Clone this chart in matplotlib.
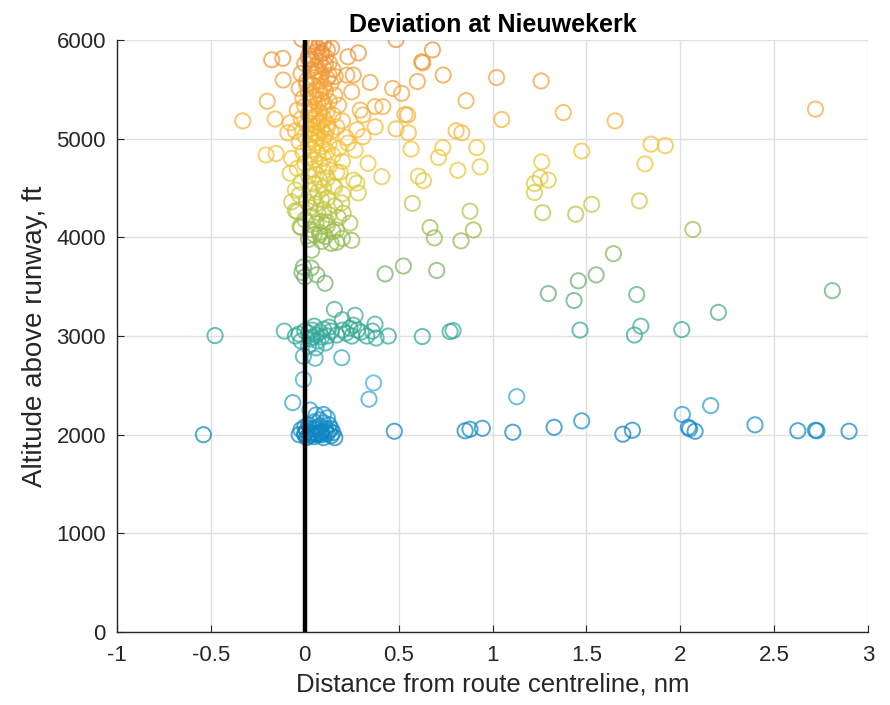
import numpy as np
import matplotlib
matplotlib.use('Agg')
import matplotlib.pyplot as plt
from matplotlib.colors import LinearSegmentedColormap, Normalize

OUTPUT_FILE = 'out.png'

# --- upper band (orange / yellow) ---
upper_x = [-0.016, 0.486, 0.68, 0.623, 0.628, 0.737, 0.60, 0.468, 0.516, 0.859,
           1.022, 1.259, 1.377, 1.049, 1.653, 2.72, 0.415, 0.534, 0.548, 0.486,
           0.552, 0.806, 0.836, 0.566, 0.735, 0.712, 0.916, 0.934, 0.815, 1.262,
           1.475, 1.844, 1.92, 1.812, 0.605, 0.632, 1.253, 1.297, 1.223, 1.223,
           0.41, 0.573, 1.782,
           -0.176, -0.117, -0.115, -0.2, -0.33, -0.158, -0.206, -0.153, -0.078, -0.09,
           -0.07, -0.078, -0.05,
           0.23, 0.285, 0.143, 0.224, 0.258, 0.348, 0.162, 0.25, 0.374, 0.295,
           0.31, 0.375, 0.277, 0.31, 0.23, 0.268, 0.337, 0.277, 0.285, 0.188, 0.26, 0.16]
upper_alt = [6010, 6005, 5900, 5780, 5770, 5645, 5580, 5510, 5460, 5385,
             5620, 5585, 5265, 5195, 5180, 5300, 5325, 5245, 5240, 5100,
             5060, 5080, 5060, 4895, 4910, 4810, 4910, 4715, 4680, 4765,
             4875, 4945, 4930, 4745, 4620, 4575, 4605, 4580, 4545, 4455,
             4615, 4345, 4370,
             5800, 5815, 5595, 5380, 5180, 5200, 4835, 4850, 5160, 5060,
             4800, 4650, 4480,
             5830, 5870, 5920, 5645, 5645, 5570, 5630, 5475, 5325, 5290,
             5240, 5120, 5090, 5020, 4955, 4885, 4750, 4550, 4450, 4660, 4580, 4510]

# --- dense cluster next to the centreline ---
core_x = [0.05, 0.08, 0.10, 0.03, 0.07, 0.12, 0.06, 0.09, 0.02, 0.11, 0.04, 0.08, 0.13, 0.00,
          0.06, 0.10, 0.03, 0.15, 0.07, -0.02, 0.09, 0.05, 0.12, 0.01, 0.08, 0.14, 0.04, 0.10,
          -0.03, 0.06, 0.11, 0.02, 0.08, 0.16, 0.05, -0.01, 0.09, 0.13, 0.03, 0.07, 0.18, 0.00,
          0.10, 0.05, -0.04, 0.12, 0.08, 0.02, 0.15, 0.06, 0.10, -0.02, 0.04, 0.20, 0.08, 0.12,
          0.01, 0.06, 0.17, 0.03, 0.09, -0.05, 0.14, 0.05, 0.11, 0.00, 0.07, 0.22, 0.03, 0.10,
          -0.03, 0.06, 0.13, 0.02, 0.09, 0.18, 0.04, 0.12, -0.01, 0.07, 0.15, 0.03, 0.10, 0.05,
          0.20, 0.00, 0.08, 0.13, -0.04, 0.04, 0.10, 0.17, 0.06, 0.02, 0.12, 0.08, -0.02, 0.05,
          0.15, 0.10, 0.03, 0.07, 0.20, -0.03, 0.05, 0.12, 0.09, 0.01, 0.06, 0.16, 0.03, 0.10,
          -0.04, 0.07, 0.13, 0.04, 0.18, 0.00, 0.09, 0.06, 0.12, -0.02, 0.03, 0.15, 0.08, 0.05,
          0.11, 0.20, 0.02, 0.09, 0.14, 0.25,
          0.04, 0.09, 0.02, 0.11, 0.06, 0.13, 0.01, 0.08, 0.05, 0.10, 0.03, 0.07, 0.12, 0.06]
core_alt = [5990, 5980, 5960, 5930, 5920, 5900, 5880, 5860, 5840, 5830, 5800, 5790, 5770, 5760,
            5740, 5720, 5700, 5700, 5680, 5660, 5650, 5620, 5610, 5590, 5580, 5560, 5540, 5530,
            5510, 5500, 5480, 5470, 5450, 5440, 5420, 5410, 5400, 5380, 5360, 5350, 5340, 5330,
            5320, 5300, 5290, 5280, 5260, 5250, 5240, 5230, 5210, 5200, 5190, 5180, 5170, 5150,
            5140, 5130, 5120, 5100, 5090, 5080, 5070, 5060, 5040, 5030, 5020, 5010, 5000, 4990,
            4970, 4960, 4950, 4930, 4920, 4900, 4890, 4870, 4860, 4850, 4830, 4810, 4800, 4780,
            4770, 4750, 4740, 4720, 4700, 4690, 4670, 4660, 4640, 4620, 4600, 4580, 4560, 4540,
            4520, 4500, 4480, 4460, 4440, 4430, 4410, 4400, 4380, 4360, 4340, 4320, 4300, 4280,
            4260, 4250, 4230, 4210, 4200, 4180, 4160, 4140, 4120, 4100, 4080, 4060, 4050, 4030,
            4010, 3990, 3980, 3960, 3940, 3970,
            5950, 5870, 5810, 5750, 5690, 5640, 5550, 5490, 5430, 5370, 5270, 5160, 5110, 5050]

# --- middle band (green) ---
mid_x = [0.88, 1.267, 1.443, 1.528, 0.667, 0.69, 0.898, 0.832, 2.067, 1.644,
         0.428, 0.525, 0.703, 1.457, 1.552, 0.197, 0.24, 0.17, 0.17, 0.117,
         0.08, 0.205, -0.07, -0.05, -0.025, 0.037, -0.007, -0.015, 0.0, 0.064,
         0.108, 0.034]
mid_alt = [4265, 4250, 4235, 4335, 4100, 3995, 4075, 3965, 4080, 3835,
           3630, 3710, 3665, 3560, 3620, 4350, 4145, 4075, 3950, 4155,
           4025, 4245, 4360, 4270, 4110, 3870, 3700, 3645, 3600, 3620,
           3535, 3690]

# --- 3000 ft band (teal) ---
teal_x = [-0.478, -0.109, 0.158, 0.2, 0.268, 0.259, 0.374, 0.445, 0.626, 0.774,
          0.79, 1.297, 1.434, 1.768, 2.81, 2.203, 1.466, 1.79, 1.756, 2.008,
          0.197, 0.055, -0.007, -0.007, 0.366, 0.342, -0.064, 0.028, 0.1,
          0.0, 0.02, 0.04, 0.06, 0.08, 0.1, 0.12, 0.03, 0.07, -0.03,
          -0.05, 0.05, 0.09, 0.14, 0.17, 0.22, 0.25, 0.28, 0.3, 0.33,
          0.36, 0.38, 0.11, 0.02, 0.06, 0.13, 0.2, 0.24, -0.02, 0.04]
teal_alt = [3005, 3050, 3270, 3165, 3210, 3110, 3120, 3000, 2995, 3045,
            3055, 3430, 3360, 3420, 3460, 3240, 3060, 3100, 3010, 3065,
            2780, 2775, 2795, 2560, 2525, 2360, 2325, 2250, 2205,
            3050, 3030, 3060, 3010, 3040, 3070, 3000, 2970, 2950, 3020,
            3000, 3100, 2990, 3050, 3010, 3030, 3000, 3060, 3040, 3000,
            3050, 2980, 2930, 2900, 2880, 3090, 3060, 3080, 2950, 2990]

# --- 2000 ft band (blue) ---
blue_x = [-0.03, 0.0, 0.01, 0.02, 0.03, 0.04, 0.05, 0.06, 0.07, 0.08, 0.09, 0.1, 0.11,
          0.12, 0.13, 0.14, 0.15, 0.16, 0.02, 0.05, 0.08, 0.1, 0.12, 0.06, 0.0, -0.02,
          0.04, 0.07, 0.09, 0.11, 0.13, 0.03, 0.01, 0.06, 0.14, 0.0, 0.08, 0.05,
          -0.54, 0.477, 0.854, 0.88, 0.946, 1.108, 1.129, 1.328, 1.475, 1.694, 1.745,
          2.011, 2.162, 2.043, 2.05, 2.079, 2.398, 2.626, 2.72, 2.728, 2.899]
blue_alt = [2000, 2010, 2040, 1990, 2060, 2020, 1980, 2050, 2000, 2090, 2030, 1970, 2060,
            2010, 2040, 1990, 2020, 1970, 2100, 2130, 2150, 2120, 2170, 2200, 2080, 2050,
            2000, 2070, 2000, 2030, 2100, 2020, 1970, 2010, 2060, 2000, 2020, 2060,
            2000, 2035, 2040, 2055, 2065, 2025, 2385, 2075, 2140, 2005, 2045,
            2205, 2295, 2075, 2060, 2035, 2100, 2040, 2045, 2040, 2035]

x_all = np.array(upper_x + core_x + mid_x + teal_x + blue_x)
alt_all = np.array(upper_alt + core_alt + mid_alt + teal_alt + blue_alt)

# colour scale: blue (low) -> teal -> green -> yellow -> orange (high)
cmap = LinearSegmentedColormap.from_list('alt', [
    (0.00, (0.05, 0.52, 0.76)),
    (0.12, (0.25, 0.68, 0.86)),
    (0.25, (0.18, 0.66, 0.60)),
    (0.38, (0.42, 0.68, 0.45)),
    (0.50, (0.58, 0.73, 0.30)),
    (0.62, (0.84, 0.80, 0.25)),
    (0.72, (0.97, 0.76, 0.20)),
    (0.85, (0.96, 0.66, 0.22)),
    (1.00, (0.93, 0.55, 0.22)),
])
norm = Normalize(vmin=2000, vmax=6000)

plt.rcParams['font.family'] = ['Liberation Sans', 'DejaVu Sans']

fig = plt.figure(figsize=(8.9, 7.05), dpi=100)
ax = fig.add_axes([0.1315, 0.1035, 0.8438, 0.8397])

ax.scatter(x_all, alt_all, s=120, facecolors='none',
           edgecolors=cmap(norm(alt_all)), linewidths=1.4, alpha=0.72, zorder=2)

# route centreline
ax.plot([0, 0], [0, 6000], color='black', linewidth=3.2, zorder=3)

ax.set_xlim(-1, 3)
ax.set_ylim(0, 6000)
ax.set_xticks(np.arange(-1, 3.01, 0.5))
ax.set_xticklabels(['-1', '-0.5', '0', '0.5', '1', '1.5', '2', '2.5', '3'])
ax.set_yticks(np.arange(0, 6001, 1000))

ax.grid(True, color='#e0e0e0', linewidth=1.0, zorder=0)
ax.set_axisbelow(True)
for side in ['top', 'right']:
    ax.spines[side].set_visible(False)
for side in ['left', 'bottom']:
    ax.spines[side].set_color('#262626')
    ax.spines[side].set_linewidth(1.0)

ax.tick_params(axis='x', direction='in', length=5, colors='#262626', labelsize=16, pad=9)
ax.tick_params(axis='y', direction='in', length=5, colors='#262626', labelsize=16, pad=8)

ax.set_xlabel('Distance from route centreline, nm', fontsize=18.5, color='#262626', labelpad=5)
ax.set_ylabel('Altitude above runway, ft', fontsize=20, color='#262626', labelpad=6)
ax.set_title('Deviation at Nieuwekerk', fontsize=18, fontweight='bold', pad=6)

fig.savefig(OUTPUT_FILE, dpi=100)
